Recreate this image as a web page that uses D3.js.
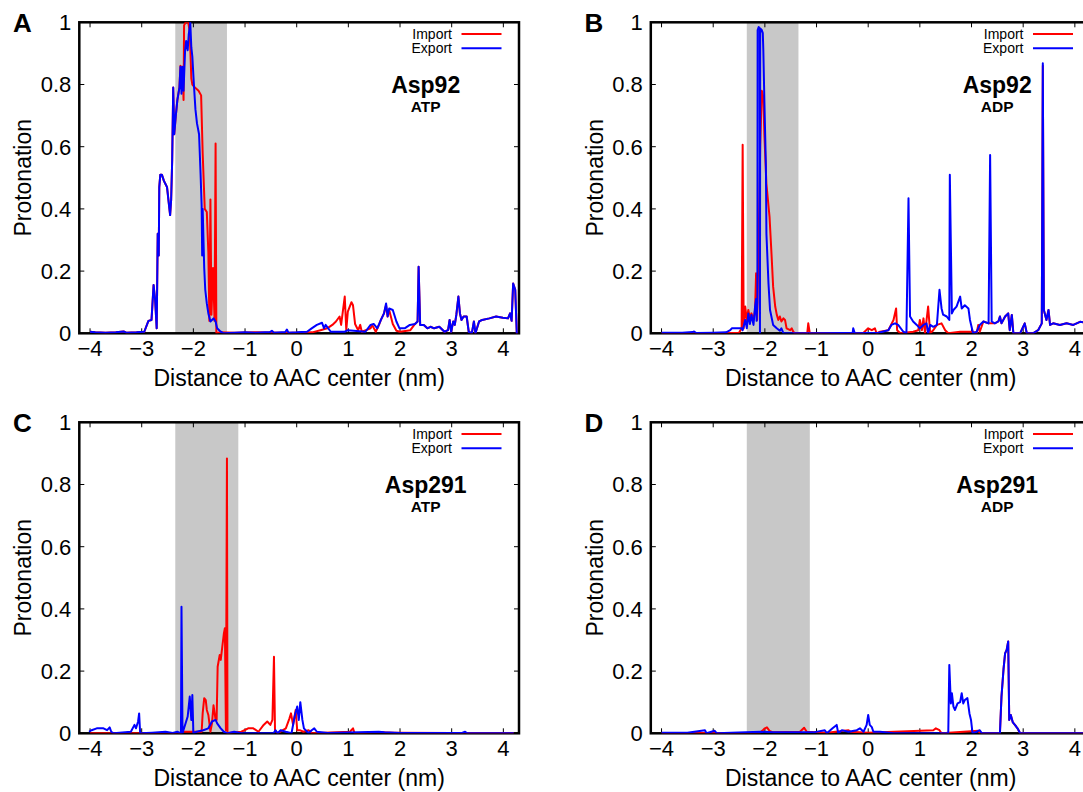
<!DOCTYPE html>
<html>
<head>
<meta charset="utf-8">
<script src="https://cdn.jsdelivr.net/npm/d3@7.9.0/dist/d3.min.js"></script>
<style>
  body { margin: 0; background: #fff; }
  svg { display: block; font-family: "Liberation Sans", Arial, Helvetica, sans-serif; }
</style>
</head>
<body>
<svg id="chart" width="1083" height="792"></svg>
<script>
const xTicks = [-4, -3, -2, -1, 0, 1, 2, 3, 4];
const yTicks = [0, 0.2, 0.4, 0.6, 0.8, 1];
const panelLetters = ["A", "B", "C", "D"];
const residues = ["Asp92", "Asp92", "Asp291", "Asp291"];
const ligands = ["ATP", "ADP", "ATP", "ADP"];
const shadeRanges = [[-2.35, -1.35], [-2.35, -1.35], [-2.35, -1.13], [-2.35, -1.13]];
const seriesNames = ["Import", "Export"];

// [distance (nm), protonation]
const exportA = [[-4.0,0.005],[-3.9,0.003],[-3.7,0.002],[-3.5,0.003],[-3.35,0.006],[-3.3,0.002],[-3.1,0.003],[-2.95,0.005],
  [-2.87,0.04],[-2.81,0.043],[-2.77,0.155],[-2.74,0.107],[-2.71,0.016],[-2.69,0.32],[-2.67,0.25],[-2.66,0.47],[-2.64,0.51],
  [-2.61,0.51],[-2.57,0.49],[-2.54,0.48],[-2.51,0.47],[-2.47,0.41],[-2.45,0.38],[-2.43,0.43],[-2.41,0.557],[-2.39,0.79],
  [-2.37,0.64],[-2.34,0.70],[-2.31,0.75],[-2.27,0.79],[-2.25,0.857],[-2.23,0.77],[-2.21,0.857],[-2.19,0.78],[-2.16,0.91],
  [-2.14,0.94],[-2.11,0.91],[-2.09,0.96],[-2.07,0.986],[-2.06,1.0],[-2.04,0.92],[-2.02,0.89],[-1.99,0.80],[-1.96,0.72],
  [-1.93,0.675],[-1.89,0.64],[-1.86,0.51],[-1.84,0.41],[-1.83,0.25],[-1.82,0.40],[-1.79,0.21],[-1.77,0.14],[-1.74,0.096],
  [-1.71,0.064],[-1.67,0.038],[-1.64,0.043],[-1.61,0.048],[-1.57,0.038],[-1.54,0.016],[-1.47,0.005],[-1.41,0.0],
  [-1.2,0.002],[-1.0,0.003],[-0.8,0.002],[-0.52,0.004],[-0.48,0.008],[-0.44,0.002],[-0.22,0.004],[-0.19,0.012],[-0.16,0.002],
  [0.0,0.003],[0.2,0.005],[0.29,0.016],[0.39,0.027],[0.49,0.034],[0.53,0.016],[0.56,0.027],[0.66,0.005],[0.93,0.005],
  [0.99,0.01],[1.33,0.005],[1.43,0.027],[1.49,0.03],[1.56,0.016],[1.63,0.043],[1.69,0.064],[1.73,0.096],[1.76,0.054],
  [1.79,0.08],[1.86,0.075],[1.93,0.038],[1.99,0.016],[2.09,0.016],[2.19,0.027],[2.29,0.03],[2.34,0.038],[2.36,0.214],
  [2.39,0.027],[2.46,0.027],[2.53,0.016],[2.59,0.021],[2.66,0.016],[2.76,0.021],[2.86,0.005],[2.93,0.01],[2.96,0.043],
  [2.99,0.005],[3.03,0.038],[3.06,0.027],[3.09,0.059],[3.13,0.118],[3.16,0.064],[3.19,0.043],[3.23,0.054],[3.29,0.054],
  [3.33,0.005],[3.39,0.0],[3.43,0.038],[3.46,0.0],[3.53,0.038],[3.59,0.043],[3.73,0.048],[3.86,0.054],[3.99,0.05],
  [4.09,0.048],[4.13,0.064],[4.16,0.04],[4.19,0.16],[4.23,0.14],[4.26,0.0],[4.28,0.0]];

const importA = [[-4.0,0.005],[-3.9,0.003],[-3.7,0.002],[-3.5,0.003],[-3.35,0.006],[-3.3,0.002],[-3.1,0.003],[-2.95,0.005],
  [-2.87,0.04],[-2.81,0.043],[-2.77,0.155],[-2.74,0.107],[-2.71,0.016],[-2.69,0.32],[-2.67,0.25],[-2.66,0.47],[-2.64,0.51],
  [-2.61,0.51],[-2.57,0.49],[-2.54,0.48],[-2.51,0.47],[-2.47,0.41],[-2.45,0.38],[-2.43,0.43],[-2.41,0.557],[-2.39,0.79],
  [-2.37,0.64],[-2.34,0.70],[-2.31,0.75],[-2.27,0.79],[-2.25,0.86],[-2.21,0.85],[-2.19,0.75],[-2.18,0.99],[-2.15,1.0],
  [-2.10,1.0],[-2.07,0.97],[-2.04,0.82],[-2.02,0.80],[-1.97,0.79],[-1.90,0.78],[-1.85,0.765],[-1.82,0.58],[-1.78,0.40],
  [-1.74,0.39],[-1.71,0.26],[-1.69,0.04],[-1.67,0.43],[-1.65,0.06],[-1.62,0.21],[-1.59,0.04],[-1.57,0.61],[-1.555,0.0],
  [-1.5,0.003],[-1.2,0.002],[-0.8,0.003],[-0.3,0.002],[0.0,0.002],[0.3,0.003],[0.46,0.01],[0.59,0.016],[0.69,0.027],
  [0.76,0.038],[0.83,0.054],[0.86,0.027],[0.93,0.118],[0.96,0.01],[0.99,0.07],[1.06,0.10],[1.09,0.09],[1.13,0.03],
  [1.19,0.01],[1.23,0.027],[1.26,0.005],[1.43,0.016],[1.46,0.027],[1.53,0.005],[1.60,0.03],[1.63,0.043],[1.69,0.064],
  [1.73,0.09],[1.76,0.054],[1.79,0.075],[1.86,0.03],[1.93,0.008],[2.0,0.005],[2.2,0.01],[2.29,0.03],[2.34,0.038],
  [2.36,0.214],[2.39,0.027],[2.46,0.027],[2.53,0.016],[2.59,0.021],[2.66,0.016],[2.76,0.021],[2.86,0.005],[2.93,0.01],
  [2.96,0.043],[2.99,0.005],[3.03,0.038],[3.06,0.027],[3.09,0.059],[3.13,0.118],[3.16,0.064],[3.19,0.043],[3.23,0.054],
  [3.29,0.054],[3.33,0.005],[3.39,0.0],[3.43,0.038],[3.46,0.0],[3.53,0.038],[3.59,0.043],[3.73,0.048],[3.86,0.054],
  [3.99,0.05],[4.09,0.048],[4.13,0.064],[4.16,0.04],[4.19,0.16],[4.23,0.14],[4.26,0.0],[4.28,0.0]];

const exportB = [[-4.0,0.002],[-3.6,0.002],[-3.4,0.004],[-3.37,0.006],[-3.33,0.001],[-3.0,0.002],[-2.75,0.003],
  [-2.67,0.01],[-2.64,0.016],[-2.5,0.016],[-2.45,0.016],[-2.43,0.01],[-2.38,0.043],[-2.35,0.016],[-2.32,0.064],[-2.29,0.03],
  [-2.26,0.059],[-2.22,0.027],[-2.19,0.086],[-2.17,0.11],[-2.16,0.04],[-2.145,0.1],[-2.14,0.975],[-2.12,0.985],[-2.10,0.98],
  [-2.095,0.0],[-2.09,0.98],[-2.06,0.975],[-2.04,0.965],[-2.03,0.91],[-2.01,0.75],[-1.98,0.536],[-1.97,0.32],[-1.93,0.16],
  [-1.90,0.075],[-1.84,0.027],[-1.77,0.016],[-1.71,0.008],[-1.68,0.016],[-1.64,0.0],[-1.0,0.0],[-0.5,0.001],[-0.3,0.002],
  [-0.29,0.016],[-0.26,0.0],[0.2,0.002],[0.39,0.01],[0.45,0.027],[0.52,0.032],[0.58,0.027],[0.68,0.005],[0.74,0.0],
  [0.78,0.434],[0.81,0.054],[0.87,0.038],[0.94,0.027],[1.0,0.016],[1.07,0.027],[1.13,0.032],[1.16,0.0],[1.20,0.027],
  [1.26,0.021],[1.33,0.027],[1.38,0.14],[1.42,0.08],[1.45,0.06],[1.52,0.054],[1.57,0.043],[1.58,0.51],[1.62,0.064],
  [1.65,0.075],[1.71,0.086],[1.78,0.118],[1.81,0.08],[1.87,0.09],[1.94,0.08],[1.97,0.043],[2.03,0.0],[2.10,0.005],
  [2.16,0.027],[2.23,0.038],[2.33,0.032],[2.36,0.573],[2.39,0.038],[2.45,0.032],[2.52,0.038],[2.55,0.054],[2.58,0.032],
  [2.65,0.054],[2.71,0.064],[2.74,0.01],[2.78,0.059],[2.81,0.0],[2.94,0.0],[3.03,0.032],[3.07,0.0],[3.19,0.0],[3.29,0.01],
  [3.36,0.032],[3.38,0.868],[3.40,0.075],[3.45,0.043],[3.49,0.075],[3.52,0.027],[3.58,0.032],[3.71,0.027],[3.84,0.032],
  [3.97,0.027],[4.10,0.037],[4.2,0.035]];

const importB = [[-4.0,0.001],[-2.5,0.002],[-2.45,0.016],[-2.43,0.606],[-2.41,0.016],[-2.38,0.086],[-2.35,0.043],
  [-2.32,0.075],[-2.29,0.048],[-2.26,0.064],[-2.22,0.043],[-2.19,0.075],[-2.17,0.193],[-2.15,0.043],[-2.12,0.3],[-2.09,0.6],
  [-2.06,0.78],[-2.03,0.76],[-2.01,0.64],[-1.97,0.48],[-1.91,0.375],[-1.87,0.25],[-1.84,0.15],[-1.80,0.086],[-1.77,0.06],
  [-1.74,0.043],[-1.71,0.054],[-1.68,0.038],[-1.64,0.048],[-1.61,0.043],[-1.58,0.016],[-1.51,0.01],[-1.48,0.016],
  [-1.45,0.005],[-1.42,0.0],[-1.18,0.0],[-1.16,0.032],[-1.13,0.0],[-0.1,0.0],[0.0,0.016],[0.07,0.01],[0.13,0.016],
  [0.16,0.0],[0.23,0.005],[0.39,0.01],[0.49,0.043],[0.54,0.08],[0.56,0.01],[0.62,0.0],[0.87,0.005],[0.97,0.01],
  [1.00,0.043],[1.04,0.01],[1.07,0.048],[1.10,0.0],[1.16,0.086],[1.20,0.0],[1.26,0.01],[1.33,0.027],[1.42,0.032],
  [1.49,0.01],[1.55,0.0],[1.78,0.005],[2.03,0.005],[2.10,0.0],[2.13,0.027],[2.16,0.005],[2.23,0.038],[2.33,0.032],
  [2.45,0.032],[2.52,0.038],[2.55,0.054],[2.58,0.032],[2.65,0.054],[2.71,0.064],[2.74,0.01],[2.78,0.059],[2.81,0.0],
  [2.94,0.0],[3.03,0.032],[3.07,0.0],[3.19,0.0],[3.29,0.01],[3.36,0.032],[3.38,0.86],[3.40,0.075],[3.45,0.043],
  [3.49,0.075],[3.52,0.027],[3.58,0.032],[3.71,0.027],[3.84,0.032],[3.97,0.027],[4.10,0.037],[4.2,0.035]];

const exportC = [[-4.02,0.005],[-3.97,0.01],[-3.87,0.016],[-3.74,0.016],[-3.67,0.01],[-3.62,0.019],[-3.59,0.005],
  [-3.54,0.0],[-3.21,0.005],[-3.14,0.027],[-3.11,0.016],[-3.07,0.038],[-3.05,0.064],[-3.03,0.0],[-2.8,0.002],[-2.54,0.005],
  [-2.4,0.001],[-2.31,0.005],[-2.24,0.0],[-2.23,0.407],[-2.21,0.0],[-2.14,0.038],[-2.11,0.054],[-2.07,0.118],[-2.04,0.043],
  [-2.02,0.123],[-2.0,0.0],[-1.94,0.005],[-1.81,0.01],[-1.71,0.016],[-1.64,0.038],[-1.57,0.043],[-1.54,0.032],[-1.47,0.016],
  [-1.41,0.005],[-1.34,0.0],[-1.21,0.005],[-1.07,0.0],[-0.45,0.0],[-0.41,0.01],[-0.37,0.0],[-0.31,0.01],[-0.21,0.005],
  [-0.1,0.0],[-0.04,0.054],[0.01,0.086],[0.04,0.043],[0.07,0.1],[0.11,0.043],[0.14,0.016],[0.23,0.0],[0.29,0.01],
  [0.34,0.016],[0.39,0.005],[0.6,0.001],[1.59,0.005],[1.7,0.003],[2.0,0.001],[3.2,0.001],[3.26,0.005],[3.3,0.0],[4.2,0.0]];

const importC = [[-4.0,0.0],[-2.25,0.0],[-2.21,0.005],[-1.84,0.005],[-1.82,0.064],[-1.79,0.113],[-1.76,0.107],
  [-1.74,0.075],[-1.71,0.059],[-1.67,0.005],[-1.64,0.032],[-1.61,0.09],[-1.57,0.043],[-1.55,0.043],[-1.53,0.214],
  [-1.49,0.252],[-1.47,0.236],[-1.44,0.279],[-1.41,0.32],[-1.39,0.338],[-1.37,0.01],[-1.35,0.884],[-1.34,0.0],[-1.27,0.002],
  [-1.07,0.005],[-0.94,0.016],[-0.84,0.016],[-0.74,0.005],[-0.64,0.027],[-0.57,0.038],[-0.51,0.027],[-0.47,0.043],
  [-0.44,0.246],[-0.42,0.01],[-0.37,0.0],[-0.21,0.016],[-0.14,0.048],[-0.11,0.064],[-0.07,0.027],[-0.02,0.075],[0.01,0.01],
  [0.06,0.01],[0.13,0.005],[0.23,0.01],[0.29,0.0],[1.03,0.005],[1.09,0.016],[1.12,0.0],[1.59,0.003],[1.9,0.002],[4.2,0.0]];

const exportD = [[-4.0,0.002],[-3.5,0.002],[-3.16,0.01],[-3.13,0.0],[-2.97,0.008],[-2.93,0.0],[-2.09,0.005],
  [-1.84,0.003],[-1.06,0.003],[-0.84,0.01],[-0.80,0.0],[-0.69,0.016],[-0.61,0.027],[-0.58,0.0],[-0.51,0.01],[-0.38,0.005],
  [-0.22,0.01],[-0.16,0.016],[-0.09,0.005],[-0.03,0.027],[0.0,0.059],[0.03,0.027],[0.07,0.02],[0.10,0.005],[0.23,0.005],
  [0.49,0.0],[1.55,0.0],[1.57,0.22],[1.60,0.096],[1.62,0.129],[1.65,0.086],[1.68,0.075],[1.73,0.096],[1.78,0.10],
  [1.81,0.129],[1.84,0.096],[1.87,0.107],[1.92,0.113],[1.96,0.064],[1.99,0.043],[2.02,0.0],[2.10,0.005],[2.16,0.01],
  [2.20,0.0],[2.55,0.0],[2.58,0.118],[2.62,0.207],[2.65,0.257],[2.68,0.268],[2.71,0.295],[2.73,0.043],[2.76,0.059],
  [2.80,0.035],[2.84,0.027],[2.89,0.016],[2.94,0.0],[4.2,0.0]];

const importD = [[-4.0,0.0],[-2.1,0.002],[-2.04,0.01],[-2.0,0.016],[-1.96,0.019],[-1.91,0.008],[-1.84,0.003],
  [-1.32,0.005],[-1.29,0.01],[-1.24,0.018],[-1.19,0.005],[-0.8,0.002],[-0.38,0.01],[-0.34,0.005],[0.0,0.002],[1.26,0.01],
  [1.31,0.016],[1.38,0.01],[1.42,0.0],[2.13,0.008],[2.16,0.0],[2.55,0.0],[2.58,0.118],[2.62,0.207],[2.65,0.257],
  [2.68,0.268],[2.71,0.295],[2.73,0.043],[2.76,0.059],[2.80,0.035],[2.84,0.027],[2.89,0.016],[2.94,0.0],[4.2,0.0]];

const importSeries = [importA, importB, importC, importD];
const exportSeries = [exportA, exportB, exportC, exportD];

const colors = { Import: "#ff0000", Export: "#0000ff" };
const offsets = [[0, 0], [571.5, 0], [0, 400], [571.5, 400]];
const plotLeft = 79.3, plotRight = 519, plotTop = 22.3, plotBottom = 333.3;

const svg = d3.select("#chart");

const x = d3.scaleLinear().domain([-4.208, 4.303]).range([plotLeft, plotRight]);
const y = d3.scaleLinear().domain([0, 1]).range([plotBottom, plotTop]);

const line = d3.line()
  .x((d) => x(d[0]))
  .y((d) => y(d[1]));

function fmtTick(v) {
  return String(v).replace("-", "\u2212");
}

offsets.forEach((off, i) => {
  let g = svg.append("g").attr("transform", `translate(${off[0]},${off[1]})`);

  g.append("clipPath").attr("id", "clip" + i)
    .append("rect")
    .attr("x", plotLeft).attr("y", plotTop)
    .attr("width", plotRight - plotLeft).attr("height", plotBottom - plotTop);

  // shaded region
  g.append("rect")
    .attr("x", x(shadeRanges[i][0]))
    .attr("y", plotTop)
    .attr("width", x(shadeRanges[i][1]) - x(shadeRanges[i][0]))
    .attr("height", plotBottom - plotTop)
    .attr("fill", "#c8c8c8");

  // ticks (inward, mirrored)
  let ticks = g.append("g").attr("stroke", "#000").attr("stroke-width", 1);
  xTicks.forEach((t) => {
    ticks.append("line").attr("x1", x(t)).attr("x2", x(t)).attr("y1", plotBottom).attr("y2", plotBottom - 5);
    ticks.append("line").attr("x1", x(t)).attr("x2", x(t)).attr("y1", plotTop).attr("y2", plotTop + 5);
  });
  yTicks.forEach((t) => {
    ticks.append("line").attr("x1", plotLeft).attr("x2", plotLeft + 5).attr("y1", y(t)).attr("y2", y(t));
    ticks.append("line").attr("x1", plotRight).attr("x2", plotRight - 5).attr("y1", y(t)).attr("y2", y(t));
  });

  // frame
  g.append("rect")
    .attr("x", plotLeft).attr("y", plotTop)
    .attr("width", plotRight - plotLeft).attr("height", plotBottom - plotTop)
    .attr("fill", "none").attr("stroke", "#000").attr("stroke-width", 2.5);

  // data
  let lines = g.append("g").attr("clip-path", `url(#clip${i})`);
  lines.append("path").datum(importSeries[i])
    .attr("d", line).attr("fill", "none")
    .attr("stroke", colors.Import).attr("stroke-width", 2).attr("stroke-linejoin", "round");
  lines.append("path").datum(exportSeries[i])
    .attr("d", line).attr("fill", "none")
    .attr("stroke", colors.Export).attr("stroke-width", 2).attr("stroke-linejoin", "round");

  // tick labels
  xTicks.forEach((t) => {
    g.append("text").attr("x", x(t)).attr("y", 356)
      .attr("text-anchor", "middle").attr("font-size", 22)
      .text(fmtTick(t));
  });
  yTicks.forEach((t) => {
    g.append("text").attr("x", plotLeft - 8).attr("y", y(t)).attr("dy", "0.36em")
      .attr("text-anchor", "end").attr("font-size", 22)
      .text(String(t));
  });

  // axis titles
  g.append("text")
    .attr("x", (plotLeft + plotRight) / 2).attr("y", 386)
    .attr("text-anchor", "middle").attr("font-size", 23)
    .text("Distance to AAC center (nm)");
  g.append("text")
    .attr("transform", `translate(31,${(plotTop + plotBottom) / 2}) rotate(-90)`)
    .attr("text-anchor", "middle").attr("font-size", 23)
    .text("Protonation");

  // panel letter
  g.append("text").attr("x", 13).attr("y", 32)
    .attr("font-size", 26).attr("font-weight", "bold")
    .text(panelLetters[i]);

  // legend
  seriesNames.forEach((name, k) => {
    let ly = 34 + k * 14.3;
    g.append("text").attr("x", 452).attr("y", ly + 4.5)
      .attr("text-anchor", "end").attr("font-size", 14)
      .text(name);
    g.append("line").attr("x1", 461.5).attr("x2", 501.5).attr("y1", ly).attr("y2", ly)
      .attr("stroke", colors[name]).attr("stroke-width", 2);
  });

  // residue labels
  g.append("text").attr("x", 425.7).attr("y", 92.7)
    .attr("text-anchor", "middle").attr("font-size", 23).attr("font-weight", "bold")
    .text(residues[i]);
  g.append("text").attr("x", 425.7).attr("y", 111.7)
    .attr("text-anchor", "middle").attr("font-size", 15.5).attr("font-weight", "bold")
    .text(ligands[i]);
});
</script>
</body>
</html>
